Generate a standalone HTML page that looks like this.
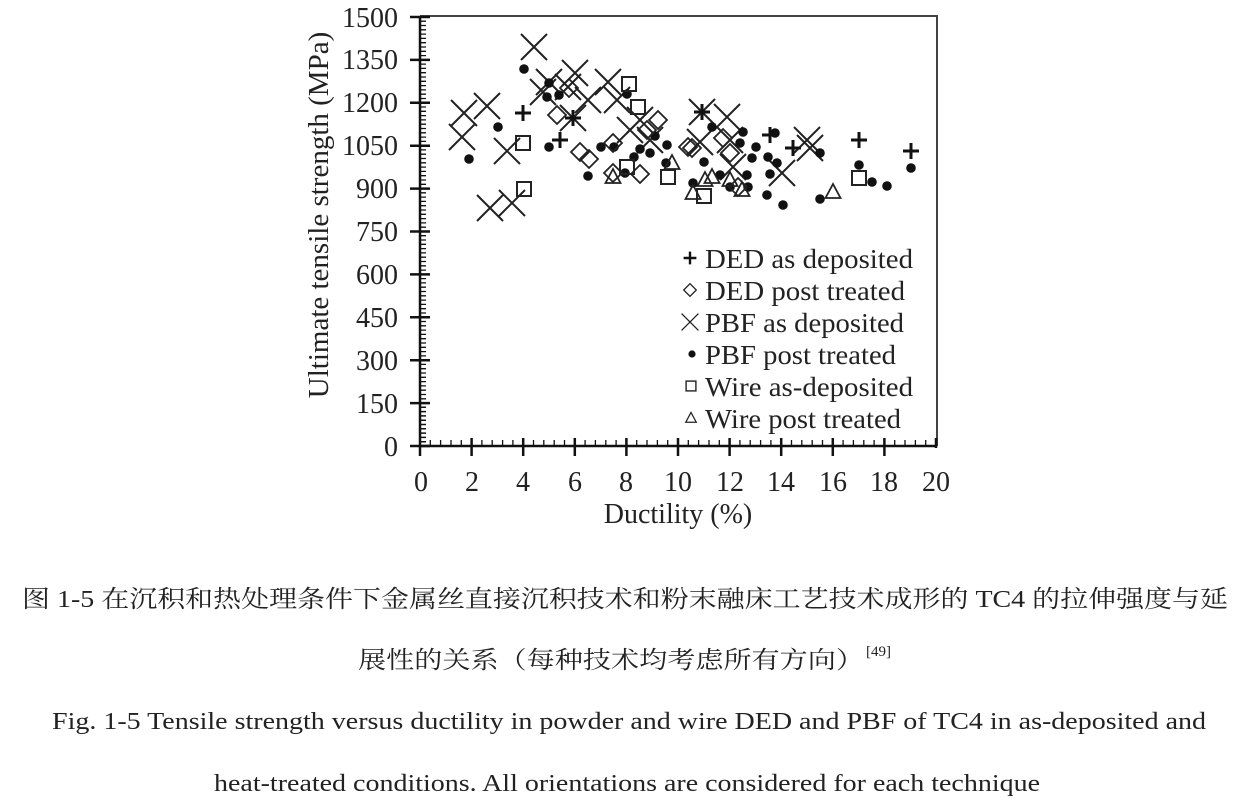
<!DOCTYPE html>
<html><head><meta charset="utf-8"><style>
html,body{margin:0;padding:0;background:#fff;width:1248px;height:806px;overflow:hidden}
svg{display:block}
.t{font-family:"Liberation Serif","Noto Serif CJK SC",serif;fill:#222}
</style></head><body>
<svg width="1248" height="806" viewBox="0 0 1248 806" xmlns="http://www.w3.org/2000/svg">
<defs>
<g id="p"><path d="M-8 0H8M0 -8V8" stroke="#111" stroke-width="3"/></g>
<g id="d"><path d="M0 -9L9 0L0 9L-9 0Z" fill="none" stroke="#222" stroke-width="1.8"/></g>
<g id="x"><path d="M-13 -13L13 13M13 -13L-13 13" stroke="#222" stroke-width="2"/></g>
<g id="c"><circle r="4.8" fill="#111"/></g>
<g id="s"><rect x="-7" y="-7" width="14" height="14" fill="#fff" fill-opacity="0" stroke="#222" stroke-width="2"/></g>
<g id="tr"><path d="M0 -8L7.5 6H-7.5Z" fill="none" stroke="#222" stroke-width="1.8"/></g>
</defs>
<path d="M420 16H937V446" fill="none" stroke="#444" stroke-width="2"/>
<path d="M420 16V446H937" fill="none" stroke="#111" stroke-width="2.5"/>
<g stroke="#111" stroke-width="1.5">
<path d="M420 441.7h6M420 437.4h6M420 433.1h6M420 428.8h6M420 424.5h6M420 420.2h6M420 415.9h6M420 411.6h6M420 407.3h6"/>
</g>
<g stroke="#111" stroke-width="2.5">
<path d="M410 446h20M410 403.1h20M410 360.2h20M410 317.3h20M410 274.4h20M410 231.5h20M410 188.6h20M410 145.7h20M410 102.8h20M410 59.9h20M410 17h20"/>
<path d="M420 446v10M471.6 438v18M523.2 438v18M574.8 438v18M626.4 438v18M678 438v18M729.6 438v18M781.2 438v18M832.8 438v18M884.4 438v18M936 438v10"/>
</g>
<g stroke="#111" stroke-width="1.3">
<path d="M430.3 446v-6M440.6 446v-6M451 446v-6M461.3 446v-6M481.9 446v-6M492.2 446v-6M502.6 446v-6M512.9 446v-6M533.5 446v-6M543.8 446v-6M554.2 446v-6M564.5 446v-6M585.1 446v-6M595.4 446v-6M605.8 446v-6M616.1 446v-6M636.7 446v-6M647 446v-6M657.4 446v-6M667.7 446v-6M688.3 446v-6M698.6 446v-6M709 446v-6M719.3 446v-6M739.9 446v-6M750.2 446v-6M760.6 446v-6M770.9 446v-6M791.5 446v-6M801.8 446v-6M812.2 446v-6M822.5 446v-6M843.1 446v-6M853.4 446v-6M863.8 446v-6M874.1 446v-6M894.7 446v-6M905 446v-6M915.4 446v-6M925.7 446v-6"/>
<path d="M420 398.8h6M420 394.5h6M420 390.2h6M420 385.9h6M420 381.6h6M420 377.3h6M420 373h6M420 368.7h6M420 364.4h6
M420 355.9h6M420 351.6h6M420 347.3h6M420 343h6M420 338.7h6M420 334.4h6M420 330.1h6M420 325.8h6M420 321.5h6
M420 313h6M420 308.7h6M420 304.4h6M420 300.1h6M420 295.8h6M420 291.5h6M420 287.2h6M420 282.9h6M420 278.6h6
M420 270.1h6M420 265.8h6M420 261.5h6M420 257.2h6M420 252.9h6M420 248.6h6M420 244.3h6M420 240h6M420 235.7h6
M420 227.2h6M420 222.9h6M420 218.6h6M420 214.3h6M420 210h6M420 205.7h6M420 201.4h6M420 197.1h6M420 192.8h6
M420 184.3h6M420 180h6M420 175.7h6M420 171.4h6M420 167.1h6M420 162.8h6M420 158.5h6M420 154.2h6M420 149.9h6
M420 141.4h6M420 137.1h6M420 132.8h6M420 128.5h6M420 124.2h6M420 119.9h6M420 115.6h6M420 111.3h6M420 107h6
M420 98.5h6M420 94.2h6M420 89.9h6M420 85.6h6M420 81.3h6M420 77h6M420 72.7h6M420 68.4h6M420 64.1h6
M420 55.6h6M420 51.3h6M420 47h6M420 42.7h6M420 38.4h6M420 34.1h6M420 29.8h6M420 25.5h6M420 21.2h6"/>
</g>
<g class="t" font-size="28" text-anchor="end">
<text x="398" y="456">0</text><text x="398" y="413">150</text><text x="398" y="370">300</text>
<text x="398" y="327">450</text><text x="398" y="284">600</text><text x="398" y="241">750</text>
<text x="398" y="198">900</text><text x="398" y="155">1050</text><text x="398" y="112">1200</text>
<text x="398" y="69">1350</text><text x="398" y="27">1500</text>
</g>
<g class="t" font-size="28" text-anchor="middle">
<text x="421" y="491">0</text><text x="472" y="491">2</text><text x="523" y="491">4</text><text x="575" y="491">6</text>
<text x="626" y="491">8</text><text x="678" y="491">10</text><text x="730" y="491">12</text><text x="781" y="491">14</text>
<text x="833" y="491">16</text><text x="884" y="491">18</text><text x="936" y="491">20</text>
<text x="678" y="523">Ductility (%)</text>
<text transform="translate(328,215) rotate(-90)" font-size="29">Ultimate tensile strength (MPa)</text>
</g>
<use href="#x" x="534" y="47"/><use href="#x" x="464" y="113"/><use href="#x" x="487" y="106"/><use href="#x" x="462" y="137"/>
<use href="#x" x="507" y="151"/><use href="#x" x="490" y="208"/><use href="#x" x="512" y="203"/><use href="#x" x="549" y="82"/>
<use href="#x" x="575" y="73"/><use href="#x" x="608" y="82"/><use href="#x" x="588" y="100"/><use href="#x" x="617" y="100"/>
<use href="#x" x="630" y="130"/><use href="#x" x="573" y="118"/><use href="#x" x="543" y="92"/><use href="#x" x="568" y="87"/>
<use href="#x" x="702" y="112"/><use href="#x" x="727" y="117"/><use href="#x" x="700" y="142"/><use href="#x" x="730" y="140"/>
<use href="#x" x="733" y="167"/><use href="#x" x="782" y="173"/><use href="#x" x="807" y="140"/><use href="#x" x="810" y="148"/>
<use href="#x" x="650" y="140"/><use href="#x" x="640" y="120"/>
<use href="#c" x="524" y="69"/><use href="#c" x="498" y="127"/><use href="#c" x="469" y="159"/><use href="#c" x="549" y="147"/>
<use href="#c" x="588" y="176"/><use href="#c" x="601" y="147"/><use href="#c" x="614" y="147"/><use href="#c" x="640" y="149"/>
<use href="#c" x="634" y="157"/><use href="#c" x="650" y="153"/><use href="#c" x="655" y="136"/><use href="#c" x="667" y="145"/>
<use href="#c" x="666" y="163"/><use href="#c" x="625" y="173"/><use href="#c" x="559" y="95"/><use href="#c" x="549" y="83"/>
<use href="#c" x="547" y="97"/><use href="#c" x="627" y="94"/><use href="#c" x="712" y="127"/><use href="#c" x="743" y="132"/>
<use href="#c" x="740" y="143"/><use href="#c" x="756" y="147"/><use href="#c" x="752" y="158"/><use href="#c" x="704" y="162"/>
<use href="#c" x="768" y="157"/><use href="#c" x="777" y="163"/><use href="#c" x="693" y="183"/><use href="#c" x="720" y="175"/>
<use href="#c" x="747" y="175"/><use href="#c" x="748" y="187"/><use href="#c" x="730" y="187"/><use href="#c" x="770" y="174"/>
<use href="#c" x="767" y="195"/><use href="#c" x="783" y="205"/><use href="#c" x="820" y="153"/><use href="#c" x="820" y="199"/>
<use href="#c" x="859" y="165"/><use href="#c" x="872" y="182"/><use href="#c" x="887" y="186"/><use href="#c" x="911" y="168"/>
<use href="#c" x="775" y="133"/>
<use href="#p" x="523" y="113"/><use href="#p" x="560" y="140"/><use href="#p" x="573" y="118"/><use href="#p" x="702" y="112"/>
<use href="#p" x="770" y="135"/><use href="#p" x="793" y="148"/><use href="#p" x="859" y="140"/><use href="#p" x="911" y="151"/>
<use href="#d" x="557" y="115"/><use href="#d" x="580" y="152"/><use href="#d" x="589" y="159"/><use href="#d" x="613" y="143"/>
<use href="#d" x="640" y="174"/><use href="#d" x="658" y="120"/><use href="#d" x="569" y="88"/><use href="#d" x="688" y="147"/>
<use href="#d" x="613" y="173"/><use href="#d" x="692" y="148"/><use href="#d" x="723" y="138"/><use href="#d" x="730" y="153"/>
<use href="#d" x="738" y="187"/><use href="#d" x="647" y="130"/>
<use href="#s" x="523" y="143"/><use href="#s" x="524" y="189"/><use href="#s" x="629" y="84"/><use href="#s" x="638" y="107"/>
<use href="#s" x="627" y="167"/><use href="#s" x="668" y="177"/><use href="#s" x="704" y="196"/><use href="#s" x="859" y="178"/>
<use href="#tr" x="613" y="177"/><use href="#tr" x="672" y="163"/><use href="#tr" x="693" y="193"/><use href="#tr" x="712" y="177"/>
<use href="#tr" x="730" y="180"/><use href="#tr" x="742" y="190"/><use href="#tr" x="833" y="192"/><use href="#tr" x="705" y="180"/>
<g transform="translate(690,258) scale(0.8)"><use href="#p"/></g>
<g transform="translate(690,290) scale(0.7)"><use href="#d"/></g>
<g transform="translate(690,322) scale(0.65)"><use href="#x"/></g>
<g transform="translate(692,354) scale(0.75)"><use href="#c"/></g>
<g transform="translate(691,386) scale(0.7)"><use href="#s"/></g>
<g transform="translate(691,418) scale(0.7)"><use href="#tr"/></g>
<g class="t" font-size="27">
<text x="705" y="268" textLength="208" lengthAdjust="spacingAndGlyphs">DED as deposited</text>
<text x="705" y="300" textLength="200" lengthAdjust="spacingAndGlyphs">DED post treated</text>
<text x="705" y="332" textLength="199" lengthAdjust="spacingAndGlyphs">PBF as deposited</text>
<text x="705" y="364" textLength="191" lengthAdjust="spacingAndGlyphs">PBF post treated</text>
<text x="705" y="396" textLength="208" lengthAdjust="spacingAndGlyphs">Wire as-deposited</text>
<text x="705" y="428" textLength="196" lengthAdjust="spacingAndGlyphs">Wire post treated</text>
</g>
<g class="t" font-size="24" fill="#111">
<text x="22" y="607" textLength="1206" lengthAdjust="spacingAndGlyphs">图 1-5  在沉积和热处理条件下金属丝直接沉积技术和粉末融床工艺技术成形的 TC4 的拉伸强度与延</text>
<text x="358" y="668" textLength="506" lengthAdjust="spacingAndGlyphs">展性的关系（每种技术均考虑所有方向）</text>
<text x="866" y="656" font-size="15">[49]</text>
<text x="52" y="729" textLength="1154" lengthAdjust="spacingAndGlyphs">Fig. 1-5 Tensile strength versus ductility in powder and wire DED and PBF of TC4 in as-deposited and</text>
<text x="214" y="791" textLength="826" lengthAdjust="spacingAndGlyphs">heat-treated conditions. All orientations are considered for each technique</text>
</g>
</svg>
</body></html>
